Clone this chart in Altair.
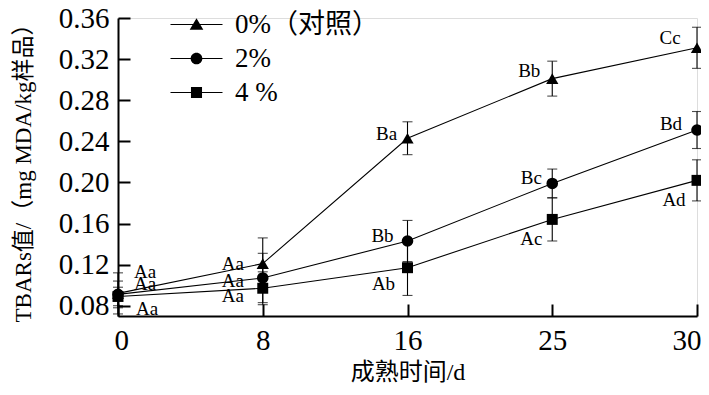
import altair as alt
import pandas as pd

# ---------------- data ----------------
days = ["0", "8", "16", "25", "30"]
series = ["0%（对照）", "2%", "4 %"]

v0 = [0.092, 0.121, 0.243, 0.301, 0.331]
e0 = [0.020, 0.025, 0.016, 0.017, 0.020]
l0 = ["Aa", "Aa", "Ba", "Bb", "Cc"]

v2 = [0.091, 0.107, 0.143, 0.199, 0.251]
e2 = [0.013, 0.024, 0.020, 0.014, 0.018]
l2 = ["Aa", "Aa", "Bb", "Bc", "Bd"]

v4 = [0.089, 0.097, 0.117, 0.164, 0.202]
e4 = [0.009, 0.016, 0.027, 0.021, 0.020]
l4 = ["Aa", "Aa", "Ab", "Ac", "Ad"]

y_ticks = [0.08, 0.12, 0.16, 0.20, 0.24, 0.28, 0.32, 0.36]
y_domain = [0.07, 0.36]

x_title = "成熟时间/d"
y_title = "TBARs值/（mg MDA/kg样品）"

# ---------------- table ----------------
rows = []
for s, vals, errs, labs in [(series[0], v0, e0, l0), (series[1], v2, e2, l2), (series[2], v4, e4, l4)]:
    for d, v, e, lab in zip(days, vals, errs, labs):
        rows.append({"day": d, "series": s, "value": v, "lo": v - e, "hi": v + e, "label": lab})
df = pd.DataFrame(rows)

# label placement (style): offsets in px relative to the point
place = {
    (series[0], "0"): (27, -21), (series[1], "0"): (27, -10), (series[2], "0"): (29, 13),
    (series[0], "8"): (-30, 0), (series[1], "8"): (-30, 3), (series[2], "8"): (-30, 8),
    (series[0], "16"): (-21, -4), (series[1], "16"): (-25, -5), (series[2], "16"): (-24, 16),
    (series[0], "25"): (-23, -8), (series[1], "25"): (-21, -5), (series[2], "25"): (-21, 20),
    (series[0], "30"): (-27, -10), (series[1], "30"): (-26, -6), (series[2], "30"): (-23, 20),
}

FONT = "Liberation Serif, Noto Sans CJK SC"
W, H = 579, 298

x_scale = alt.Scale(type="point", padding=0, domain=days)
y_scale = alt.Scale(domain=y_domain, nice=False, zero=False)

x_axis = alt.Axis(title=x_title, labelAngle=0, ticks=False, grid=False,
                  domainColor="black", domainWidth=2, labelPadding=10,
                  labelFlush=True, labelFlushOffset=4,
                  labelFontSize=29, titleFontSize=24, titlePadding=5,
                  labelFont=FONT, titleFont=FONT, titleFontWeight="normal",
                  labelColor="black", titleColor="black")
y_axis = alt.Axis(title=y_title, values=y_ticks, format=".2f", ticks=False, grid=False,
                  domainColor="black", domainWidth=2, labelPadding=9,
                  labelFontSize=29, titleFontSize=23, titlePadding=23,
                  labelFont=FONT, titleFont=FONT, titleFontWeight="normal",
                  labelColor="black", titleColor="black")

X = alt.X("day:O", sort=days, scale=x_scale, axis=x_axis)
Y = alt.Y("value:Q", scale=y_scale, axis=y_axis)

base = alt.Chart(df)

lines = base.mark_line(color="black", strokeWidth=1.1).encode(x=X, y=Y, detail="series:N")

errs = base.mark_errorbar(ticks=alt.MarkConfig(size=10), color="black", thickness=1.1).encode(
    x=X,
    y=alt.Y("lo:Q", scale=y_scale, axis=y_axis),
    y2="hi:Q",
)

points = base.mark_point(filled=True, color="black", opacity=1).encode(
    x=X,
    y=Y,
    shape=alt.Shape("series:N", scale=alt.Scale(domain=series, range=["triangle-up", "circle", "square"]), legend=None),
    size=alt.Size("series:N", scale=alt.Scale(domain=series, range=[150, 120, 130]), legend=None),
)

texts = []
for (s, d), (dx, dy) in place.items():
    sub = df[(df["series"] == s) & (df["day"] == d)]
    texts.append(
        alt.Chart(sub).mark_text(dx=dx, dy=dy, font=FONT, fontSize=19, color="black").encode(
            x=X, y=Y, text="label:N",
        )
    )

inner = alt.layer(lines, errs, points, *texts)

# inward ticks and legend (line + marker symbols)
leg_paths = [
    "M-4,-0.09H4V0.09H-4ZM0,-0.95L1.05,0.8L-1.05,0.8Z",
    "M-4,-0.09H4V0.09H-4ZM0.9,0A0.9,0.9,0,1,1,-0.9,0A0.9,0.9,0,1,1,0.9,0Z",
    "M-4,-0.09H4V0.09H-4ZM-0.85,-0.85H0.85V0.85H-0.85Z",
]
tick_layer = alt.Chart(df).transform_filter("datum.value < 0").mark_point(
    filled=True, color="black", opacity=1
).encode(
    x=alt.X("day:O", sort=days, scale=x_scale,
            axis=alt.Axis(orient="top", offset=-H, labels=False, domain=False, title=None,
                          grid=False, ticks=True, tickSize=12, tickWidth=2, tickColor="black")),
    y=alt.Y("value:Q", scale=y_scale,
            axis=alt.Axis(orient="right", offset=-W, values=y_ticks, labels=False, domain=False,
                          title=None, grid=False, ticks=True, tickSize=12, tickWidth=2, tickColor="black")),
    shape=alt.Shape("series:N", scale=alt.Scale(domain=series, range=leg_paths),
                    legend=alt.Legend(title=None, orient="none", legendX=65, legendY=-7,
                                      symbolSize=169, symbolFillColor="black", symbolOpacity=1,
                                      labelFont=FONT, labelFontSize=27, labelColor="black",
                                      labelOffset=25, rowPadding=6, padding=0, labelLimit=300)),
)

chart = alt.layer(inner, tick_layer).resolve_scale(
    x="independent", y="independent", shape="independent", size="independent"
).properties(
    width=W, height=H,
    autosize=alt.AutoSizeParams(type="none"),
    padding={"left": 110, "top": 10, "right": 4, "bottom": 70},
).configure_view(stroke=None).configure(background="white")

chart.save("out.html", embed_options={"renderer": "svg", "actions": False})
